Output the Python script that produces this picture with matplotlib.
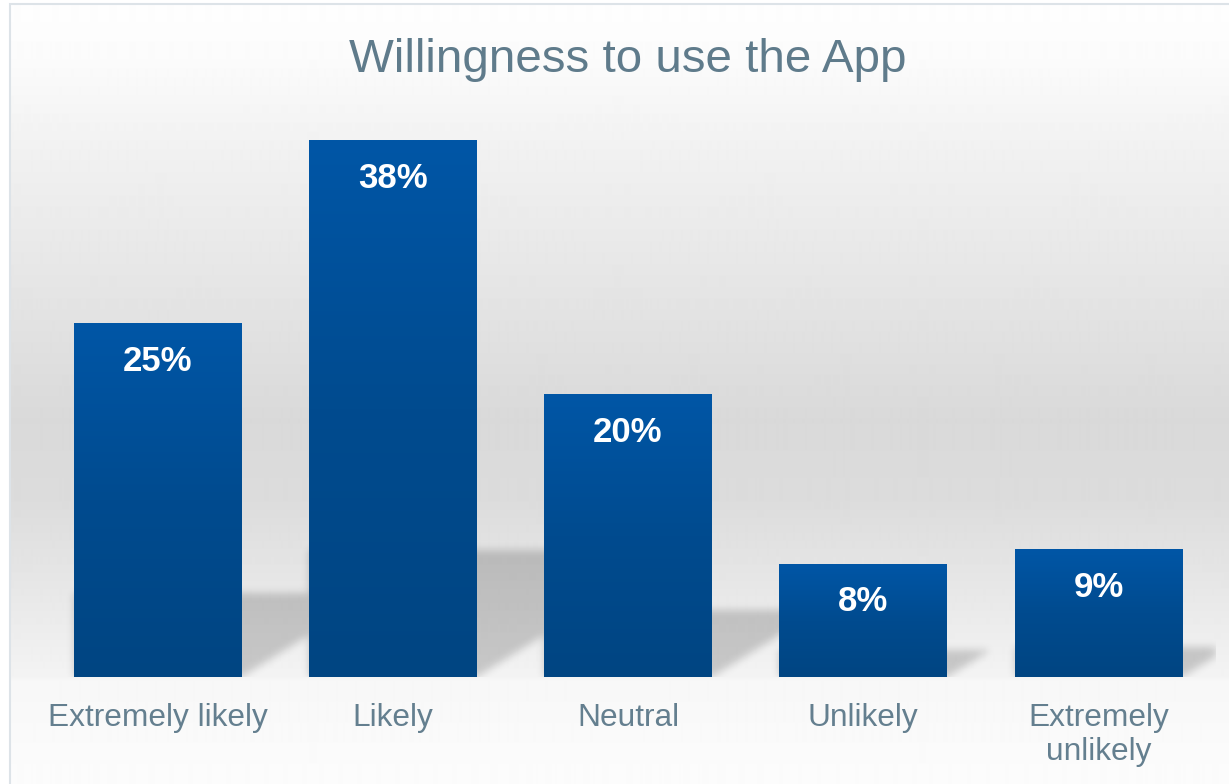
import numpy as np
import matplotlib.pyplot as plt
from matplotlib.colors import LinearSegmentedColormap
from matplotlib.patches import Rectangle

plt.rcParams['font.family'] = ['Liberation Sans', 'DejaVu Sans']

# data
categories = ['Extremely likely', 'Likely', 'Neutral', 'Unlikely', 'Extremely\nunlikely']
values = [25, 38, 20, 8, 9]
value_labels = ['25%', '38%', '20%', '8%', '9%']
title = 'Willingness to use the App'

W, H = 1229, 784
fig = plt.figure(figsize=(W / 100, H / 100), dpi=100)
fig.patch.set_facecolor('white')

# grey backdrop gradient (light at top, darker middle, light floor)
stops_y = [4, 60, 150, 300, 420, 500, 580, 676, 680, 784]
stops_lvl = [254, 251, 241, 228, 217, 220, 230, 243, 247, 252]
bg_ax = fig.add_axes([10 / W, 0, 1 - 10 / W, 1 - 4 / H], zorder=-10)
rows = np.arange(4, H)
lvl = np.interp(rows, stops_y, stops_lvl) / 255
bg_ax.imshow(np.repeat(lvl[:, None], 2, axis=1), cmap='gray', vmin=0, vmax=1,
             aspect='auto', extent=[0, 1, 0, 1], interpolation='bilinear')
bg_ax.axis('off')

fig.add_artist(Rectangle((10 / W, -0.1), 1.2, (H - 4) / H + 0.1, transform=fig.transFigure,
                         fill=False, ec='#dde3e8', lw=1.5))

# main axes
ax_w_px, ax_h_px = 1176, 577
ax = fig.add_axes([40 / W, (H - 677) / H, ax_w_px / W, ax_h_px / H])
ax.patch.set_alpha(0)
ymax = 40.86
px_x = ax_w_px / 5
px_y = ax_h_px / ymax
bar_w = 0.712

x = np.arange(len(values))
bars = ax.bar(x, values, width=bar_w, color='none', zorder=3)

bar_cmap = LinearSegmentedColormap.from_list('bar', ['#004582', '#004b8f', '#0056a6'])
grad = np.linspace(0, 1, 256)[:, None]
for b in bars:
    x0, w, h = b.get_x(), b.get_width(), b.get_height()
    ax.imshow(grad, extent=[x0, x0 + w, 0, h], origin='lower', cmap=bar_cmap,
              aspect='auto', zorder=3, interpolation='bilinear')

# soft cast shadows behind the bars
yy = np.arange(ax_h_px)[:, None] + 0.5
xx = np.arange(ax_w_px)[None, :] + 0.5
mask = np.zeros((ax_h_px, ax_w_px))
slope = 0.62
for i, v in enumerate(values):
    xl = (i - bar_w / 2 + 0.5) * px_x
    xr = (i + bar_w / 2 + 0.5) * px_x
    hs = 0.237 * v * px_y
    inside = (yy <= hs) & (xx >= xl) & (xx <= xr + yy / slope)
    mask = np.maximum(mask, inside.astype(float))
sig = 4.0
k = np.exp(-0.5 * (np.arange(-12, 13) / sig) ** 2)
k /= k.sum()
mask = np.apply_along_axis(lambda r: np.convolve(r, k, mode='same'), 1, mask)
mask = np.apply_along_axis(lambda c: np.convolve(c, k, mode='same'), 0, mask)
rgba = np.zeros((ax_h_px, ax_w_px, 4))
rgba[..., 3] = mask * 0.18
ax.imshow(rgba, extent=[-0.5, 4.5, 0, ymax], origin='lower', aspect='auto',
          zorder=1, interpolation='bilinear')

for i, (v, lab) in enumerate(zip(values, value_labels)):
    ax.annotate(lab, xy=(i, v), xytext=(0, -34), textcoords='offset points',
                ha='center', va='baseline', color='white', fontsize=25,
                fontweight='bold', zorder=5)

ax.set_xlim(-0.5, 4.5)
ax.set_ylim(0, ymax)
ax.set_xticks(x, categories)
ax.set_yticks([])
ax.tick_params(axis='x', length=0, pad=18.5, labelsize=22.8, labelcolor='#647f8f')
for t in ax.get_xticklabels():
    t.set_linespacing(1.19)
for s in ax.spines.values():
    s.set_visible(False)

fig.text(628 / W, 1 - 72 / H, title, ha='center', va='baseline', fontsize=34.2, color='#5f7b8b')

fig.savefig('out.png', dpi=100)
